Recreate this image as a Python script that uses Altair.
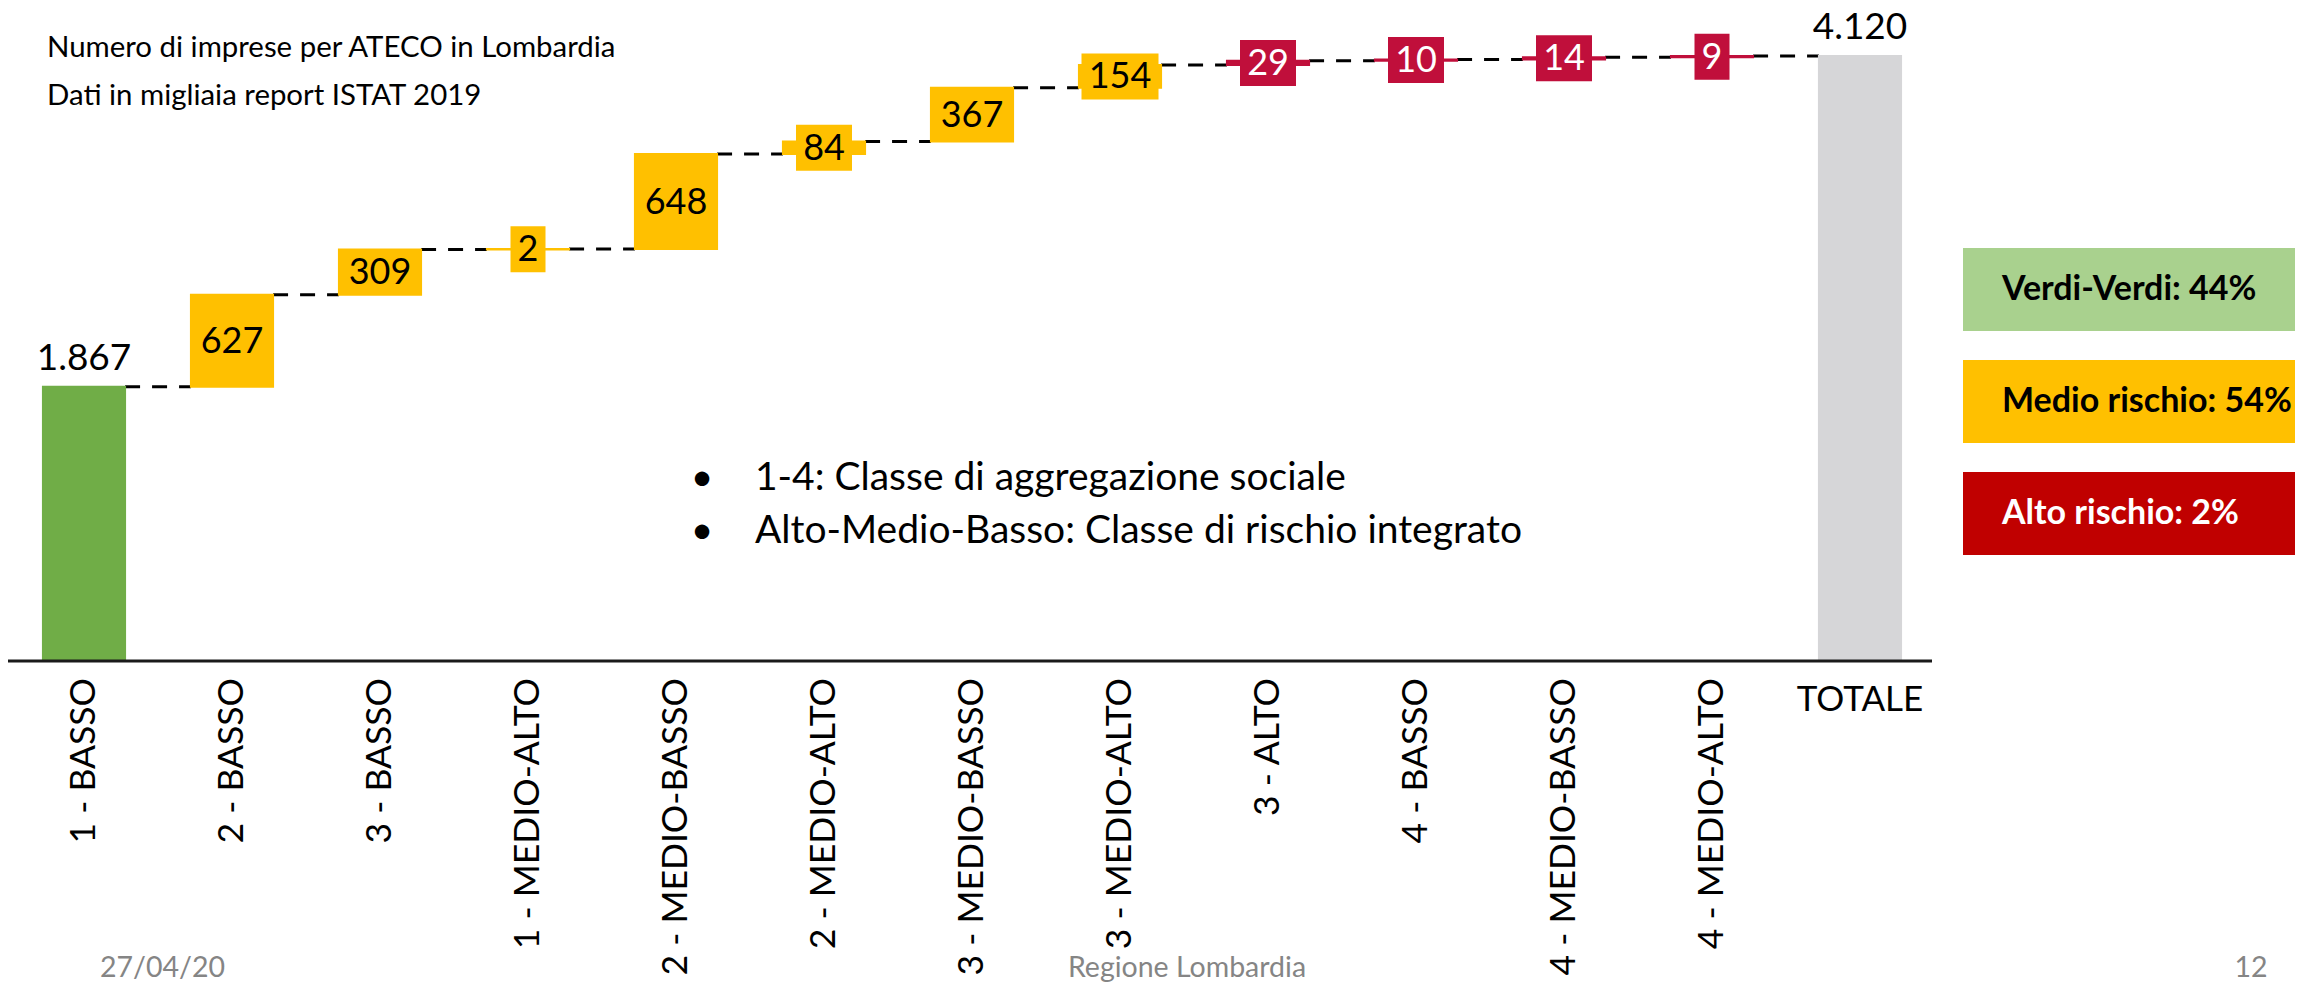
import altair as alt
import pandas as pd

# ---------------- data ----------------
categories = ["1 - BASSO", "2 - BASSO", "3 - BASSO", "1 - MEDIO-ALTO", "2 - MEDIO-BASSO",
              "2 - MEDIO-ALTO", "3 - MEDIO-BASSO", "3 - MEDIO-ALTO", "3 - ALTO", "4 - BASSO",
              "4 - MEDIO-BASSO", "4 - MEDIO-ALTO", "TOTALE"]
values = [1867, 627, 309, 2, 648, 84, 367, 154, 29, 10, 14, 9, 4120]
kinds = ["start", "medio", "medio", "medio", "medio", "medio", "medio", "medio",
         "alto", "alto", "alto", "alto", "totale"]

title_lines = ["Numero di imprese per ATECO in Lombardia", "Dati in migliaia report ISTAT 2019"]
bullet_lines = ["1-4: Classe di aggregazione sociale", "Alto-Medio-Basso: Classe di rischio integrato"]
legend_labels = ["Verdi-Verdi: 44%", "Medio rischio: 54%", "Alto rischio: 2%"]
legend_kinds = ["verdi", "medio", "rosso"]
footer_texts = ["27/04/20", "Regione Lombardia", "12"]

# ---------------- derived table ----------------
rows = []
running = 0
for cat, v, k in zip(categories, values, kinds):
    if k in ("start", "totale"):
        lo, hi = 0, v
    else:
        lo, hi = running, running + v
    running = hi
    lab = f"{v:,}".replace(",", ".")
    rows.append({"cat": cat, "lo": lo, "hi": hi, "mid": (lo + hi) / 2, "kind": k, "label": lab})
bars = pd.DataFrame(rows)

conn = pd.DataFrame({
    "cat": categories[:-1],
    "next": categories[1:],
    "level": [r["hi"] for r in rows[:-1]],
})

# ---------------- scales ----------------
FONT = "Lato"
xscale = alt.Scale(domain=categories, range=[2, 1926], paddingInner=0.445, paddingOuter=0.2225)
yscale = alt.Scale(domain=[0, 4120], range=[653, 48], nice=False, zero=False)
cscale = alt.Scale(domain=["start", "medio", "alto", "totale", "verdi", "rosso"],
                   range=["#70AD47", "#FFC000", "#C00F3B", "#D6D6D8", "#A9D18E", "#C00000"])

X = alt.X("cat:N", scale=xscale, axis=None)
base = alt.Chart(bars)

connectors = alt.Chart(conn).mark_rule(color="#000000", strokeWidth=3, strokeDash=[15, 12]).encode(
    x=alt.X("cat:N", scale=xscale, axis=None, bandPosition=1),
    x2=alt.X2("next", bandPosition=0),
    y=alt.Y("level:Q", scale=yscale, axis=None),
)

bar_layer = base.mark_bar(strokeWidth=2).encode(
    x=X,
    y=alt.Y("lo:Q", scale=yscale, axis=None),
    y2="hi:Q",
    fill=alt.Fill("kind:N", scale=cscale, legend=None),
    stroke=alt.Stroke("kind:N", scale=cscale, legend=None),
)

inc = base.transform_filter("datum.kind == 'medio' || datum.kind == 'alto'")

boxes = inc.transform_calculate(w="length(datum.label) * 21 + 14").mark_tick(
    thickness=46, opacity=1).encode(
    x=X,
    y=alt.Y("mid:Q", scale=yscale, axis=None),
    size=alt.Size("w:Q", scale=None, legend=None),
    color=alt.Color("kind:N", scale=cscale, legend=None),
)

txt_medio = base.transform_filter("datum.kind == 'medio'").mark_text(
    font=FONT, fontSize=36, color="#000000", baseline="middle", align="center", dy=1).encode(
    x=X, y=alt.Y("mid:Q", scale=yscale, axis=None), text="label:N")
txt_alto = base.transform_filter("datum.kind == 'alto'").mark_text(
    font=FONT, fontSize=36, color="#FFFFFF", baseline="middle", align="center", dy=1).encode(
    x=X, y=alt.Y("mid:Q", scale=yscale, axis=None), text="label:N")
txt_ends = base.transform_filter("datum.kind == 'start' || datum.kind == 'totale'").mark_text(
    font=FONT, fontSize=37, color="#000000", baseline="alphabetic", align="center", dy=-17).encode(
    x=X, y=alt.Y("hi:Q", scale=yscale, axis=None), text="label:N")

axis_line = alt.Chart(pd.DataFrame({"z": [0]})).mark_rule(color="#1A1A1A", strokeWidth=3).encode(
    x=alt.value(-1), x2=alt.value(1924), y=alt.Y("z:Q", scale=yscale, axis=None))

cat_df = pd.DataFrame({"cat": categories})
xlabels = alt.Chart(cat_df).transform_filter("datum.cat != 'TOTALE'").mark_text(
    font=FONT, fontSize=35.5, angle=270, align="right", baseline="middle", color="#000000").encode(
    x=X, y=alt.value(670), text="cat:N")
xlabel_tot = alt.Chart(cat_df).transform_filter("datum.cat == 'TOTALE'").mark_text(
    font=FONT, fontSize=35, align="center", baseline="alphabetic", color="#000000").encode(
    x=X, y=alt.value(703), text="cat:N")

layers = [connectors, bar_layer, boxes, txt_medio, txt_alto, txt_ends, axis_line, xlabels, xlabel_tot]

# titles
for t, yb in zip(title_lines, [49, 97]):
    layers.append(alt.Chart(pd.DataFrame({"t": [t]})).mark_text(
        font=FONT, fontSize=29.4, align="left", baseline="alphabetic", color="#000000").encode(
        x=alt.value(39), y=alt.value(yb), text="t:N"))

# bullets
for t, yb in zip(bullet_lines, [482, 535]):
    layers.append(alt.Chart(pd.DataFrame({"t": [t]})).mark_text(
        font=FONT, fontSize=39, align="left", baseline="alphabetic", color="#000000").encode(
        x=alt.value(747), y=alt.value(yb), text="t:N"))
    layers.append(alt.Chart(pd.DataFrame({"t": ["•"]})).mark_text(
        font=FONT, fontSize=39, align="center", baseline="alphabetic", color="#000000").encode(
        x=alt.value(694), y=alt.value(yb), text="t:N"))

# legend boxes
for lab, k, (y0, y1), tcol in zip(legend_labels, legend_kinds,
                                  [(240, 323), (352, 435), (464, 547)],
                                  ["#000000", "#000000", "#FFFFFF"]):
    d = pd.DataFrame({"t": [lab], "kind": [k]})
    layers.append(alt.Chart(d).mark_rect().encode(
        x=alt.value(1955), x2=alt.value(2300), y=alt.value(y0), y2=alt.value(y1),
        color=alt.Color("kind:N", scale=cscale, legend=None)))
    layers.append(alt.Chart(d).mark_text(
        font=FONT, fontSize=34, fontWeight="bold", align="left", baseline="alphabetic", color=tcol).encode(
        x=alt.value(1994), y=alt.value(y1 - 31), text="t:N"))

# footer
for t, xp, al in zip(footer_texts, [92, 1179, 2243], ["left", "center", "center"]):
    layers.append(alt.Chart(pd.DataFrame({"t": [t]})).mark_text(
        font=FONT, fontSize=28.5, align=al, baseline="alphabetic", color="#858585").encode(
        x=alt.value(xp), y=alt.value(969), text="t:N"))

chart = alt.layer(*layers).properties(
    width=2287, height=976, padding=0, autosize=alt.AutoSizeParams(type="none")
).configure_view(stroke=None)

chart.save("out.html", embed_options={"renderer": "svg", "actions": False})
